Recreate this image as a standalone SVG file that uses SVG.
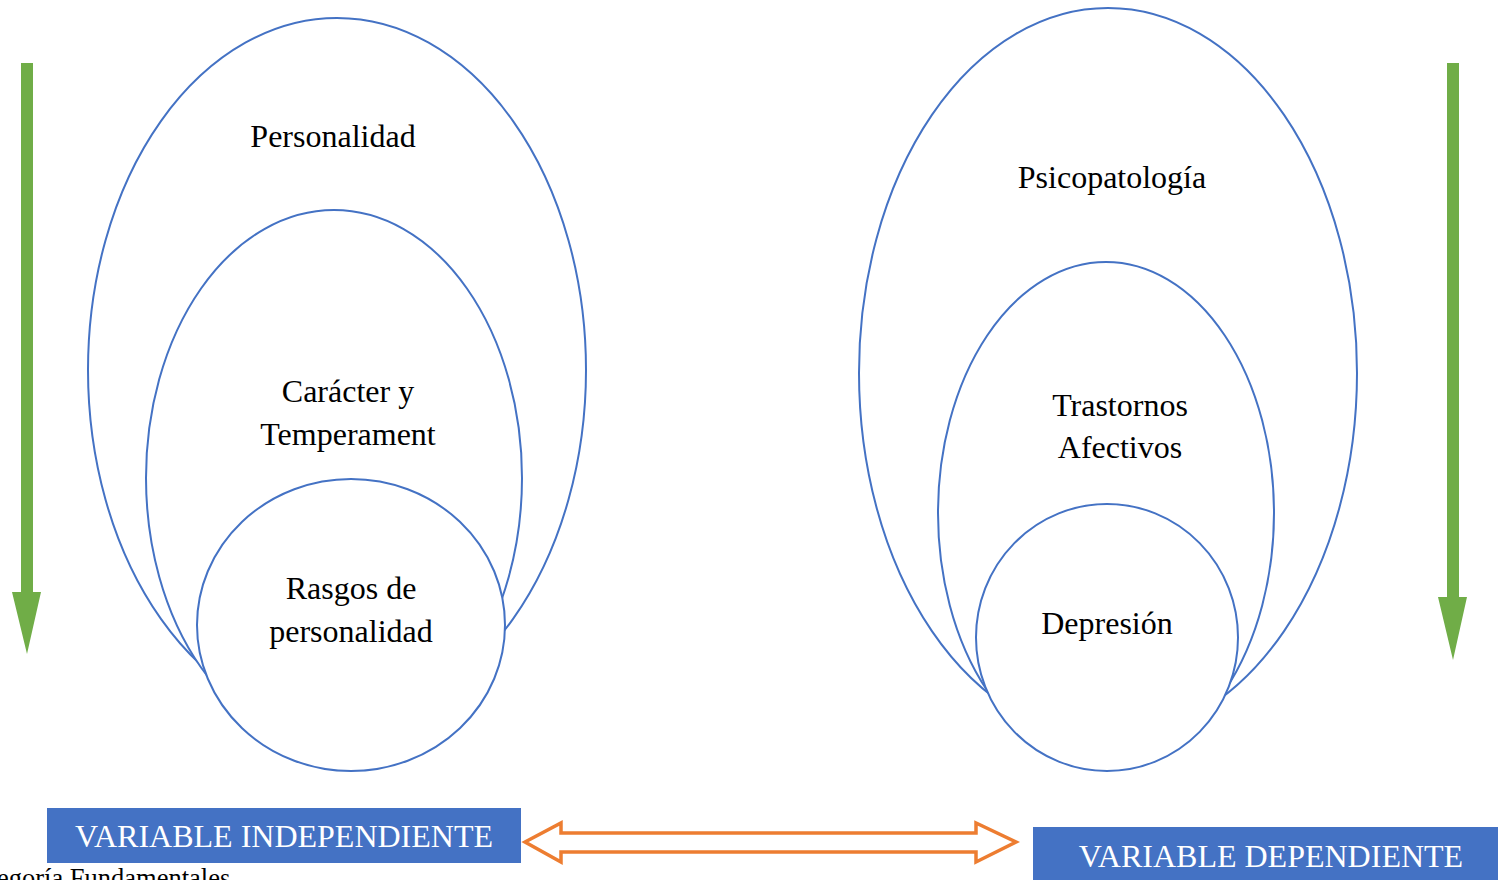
<svg xmlns="http://www.w3.org/2000/svg" width="1498" height="880" viewBox="0 0 1498 880">
  <style>
    .ring { fill: #ffffff; stroke: #4472C4; stroke-width: 2; }
    .lbl { font-family: "Liberation Serif", "Times New Roman", serif; font-size: 32px; fill: #000000; text-anchor: middle; }
    .box { fill: #4472C4; }
    .boxtxt { font-family: "Liberation Serif", "Times New Roman", serif; font-size: 32px; fill: #ffffff; text-anchor: middle; }
    .down { fill: #70AD47; }
    .link { fill: #ffffff; stroke: #ED7D31; stroke-width: 3.5; stroke-linejoin: miter; }
  </style>
  <rect width="1498" height="880" fill="#ffffff"/>

  <!-- Independent variable: nested sets -->
  <g id="personalidad">
    <ellipse class="ring" cx="337" cy="370" rx="249" ry="352"/>
    <text class="lbl" x="333" y="147">Personalidad</text>
  </g>
  <g id="caracter">
    <ellipse class="ring" cx="334" cy="478" rx="188" ry="268"/>
    <text class="lbl" x="348" y="402">Carácter y</text>
    <text class="lbl" x="348" y="445">Temperament</text>
  </g>
  <g id="rasgos">
    <ellipse class="ring" cx="351" cy="625" rx="154" ry="146"/>
    <text class="lbl" x="351" y="599">Rasgos de</text>
    <text class="lbl" x="351" y="642">personalidad</text>
  </g>

  <!-- Dependent variable: nested sets -->
  <g id="psicopatologia">
    <ellipse class="ring" cx="1108" cy="373" rx="249" ry="365"/>
    <text class="lbl" x="1112" y="188">Psicopatología</text>
  </g>
  <g id="trastornos">
    <ellipse class="ring" cx="1106" cy="513" rx="168" ry="251"/>
    <text class="lbl" x="1120" y="416">Trastornos</text>
    <text class="lbl" x="1120" y="458">Afectivos</text>
  </g>
  <g id="depresion">
    <ellipse class="ring" cx="1107" cy="637.5" rx="131" ry="133.5"/>
    <text class="lbl" x="1107" y="634">Depresión</text>
  </g>

  <!-- Variable labels -->
  <g id="var-independiente">
    <rect class="box" x="47" y="808" width="474" height="55"/>
    <text class="boxtxt" x="284" y="847">VARIABLE INDEPENDIENTE</text>
  </g>
  <g id="var-dependiente">
    <rect class="box" x="1033" y="827" width="465" height="53"/>
    <text class="boxtxt" x="1271" y="867">VARIABLE DEPENDIENTE</text>
  </g>

  <!-- Connectors -->
  <g id="connectors">
    <polygon class="down" points="21,63 33,63 33,592 41,592 27,654 12,592 21,592"/>
    <polygon class="down" points="1447,63 1459,63 1459,597 1467,597 1453,660 1438,597 1447,597"/>
    <polygon class="link" points="525,842 561,823 561,833 976,833 976,823 1016,842 976,862 976,852 561,852 561,862"/>
  </g>

  <!-- Caption line running off the lower page edge -->
  <text x="-3" y="887" style="font-family: 'Liberation Serif', 'Times New Roman', serif; font-size: 26.5px; fill: #000000;">egoría Fundamentales</text>
</svg>
